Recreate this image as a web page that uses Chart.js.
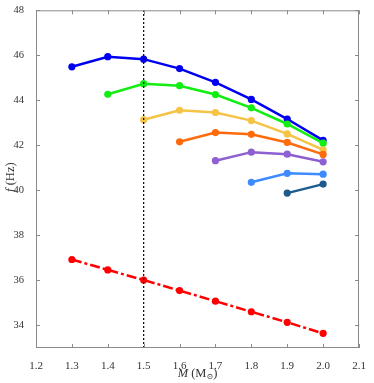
<!DOCTYPE html>
<html>
<head>
<meta charset="utf-8">
<title>f vs M</title>
<script src="https://cdn.jsdelivr.net/npm/chart.js@4.4.1/dist/chart.umd.min.js"></script>
<style>
  html, body { margin: 0; padding: 0; background: #ffffff; }
  #wrap { position: relative; width: 374px; height: 383px; }
</style>
</head>
<body>
<div id="wrap"><canvas id="fmChart"></canvas></div>
<script>
// values
var masses = [1.3, 1.4, 1.5, 1.6, 1.7, 1.8, 1.9, 2.0];
var seriesBlue = [45.49, 45.94, 45.83, 45.41, 44.80, 44.04, 43.17, 42.22];
var seriesGreen = [null, 44.27, 44.74, 44.65, 44.26, 43.67, 42.95, 42.10];
var seriesYellow = [null, null, 43.14, 43.56, 43.46, 43.10, 42.51, 41.80];
var seriesOrange = [null, null, null, 42.16, 42.57, 42.49, 42.13, 41.60];
var seriesPurple = [null, null, null, null, 41.32, 41.70, 41.61, 41.27];
var seriesLightBlue = [null, null, null, null, null, 40.36, 40.76, 40.72];
var seriesDarkBlue = [null, null, null, null, null, null, 39.88, 40.28];
var seriesRed = [36.93, 36.47, 36.02, 35.55, 35.08, 34.61, 34.14, 33.65];
var markerMass = 1.5;
var xTicks = [1.2, 1.3, 1.4, 1.5, 1.6, 1.7, 1.8, 1.9, 2.0, 2.1];
var yTicks = [34, 36, 38, 40, 42, 44, 46, 48];
var xRange = [1.2, 2.1];
var yRange = [33, 48];

(function () {
  var serif = "'Liberation Serif', 'DejaVu Serif', serif";
  var axisGray = '#8a8a8a';
  var labelColor = '#333333';

  function points(values) {
    var out = [];
    for (var i = 0; i < masses.length; i++) {
      if (values[i] !== null) out.push({ x: masses[i], y: values[i] });
    }
    return out;
  }

  function curve(values, color, dash) {
    return {
      data: points(values),
      borderColor: color,
      backgroundColor: color,
      borderWidth: 2.5,
      borderDash: dash || [],
      pointRadius: 3.6,
      pointBorderWidth: 0,
      pointBackgroundColor: color,
      tension: 0,
    };
  }

  // draw a run of text pieces left to right, returns total width
  function pieces(c, parts, x, y, measureOnly) {
    var w = 0;
    parts.forEach(function (p) {
      c.font = p.font;
      if (!measureOnly) c.fillText(p.text, x + w, y + (p.dy || 0));
      w += c.measureText(p.text).width;
    });
    return w;
  }

  // inward ticks on all four sides, box frame and the italic axis titles
  var frame = {
    id: 'frame',
    afterDraw: function (chart) {
      var c = chart.ctx;
      var a = chart.chartArea;
      var xs = chart.scales.x;
      var ys = chart.scales.y;
      var len = 4;
      c.save();
      c.strokeStyle = axisGray;
      c.lineWidth = 1;
      c.strokeRect(a.left + 0.5, a.top + 0.5, a.right - a.left - 1, a.bottom - a.top - 1);
      c.beginPath();
      xTicks.forEach(function (v) {
        var px = Math.round(xs.getPixelForValue(v)) + 0.5;
        c.moveTo(px, a.bottom); c.lineTo(px, a.bottom - len);
        c.moveTo(px, a.top); c.lineTo(px, a.top + len);
      });
      yTicks.forEach(function (v) {
        var py = Math.round(ys.getPixelForValue(v)) + 0.5;
        c.moveTo(a.left, py); c.lineTo(a.left + len, py);
        c.moveTo(a.right, py); c.lineTo(a.right - len, py);
      });
      c.stroke();

      c.fillStyle = labelColor;
      c.textBaseline = 'alphabetic';
      c.textAlign = 'left';
      var reg = '12.5px ' + serif;
      var ital = 'italic 12.5px ' + serif;

      // x title: M (M_sun)
      var xParts = [
        { text: 'M', font: ital },
        { text: ' (M', font: reg },
        { text: '\u2299', font: '8px ' + serif, dy: 2 },
        { text: ')', font: reg },
      ];
      var wx = pieces(c, xParts, 0, 0, true);
      pieces(c, xParts, (a.left + a.right) / 2 - wx / 2, 377, false);

      // y title: f (Hz)
      var yParts = [
        { text: 'f', font: ital },
        { text: ' (Hz)', font: reg },
      ];
      var wy = pieces(c, yParts, 0, 0, true);
      c.translate(14, (a.top + a.bottom) / 2 - 2);
      c.rotate(-Math.PI / 2);
      pieces(c, yParts, -wy / 2, 0, false);
      c.restore();
    },
  };

  function init() {
    var el = document.getElementById('fmChart');
    el.width = 374;
    el.height = 383;
    var ctx = el.getContext('2d');

    var vline = {
      data: [{ x: markerMass, y: yRange[0] }, { x: markerMass, y: yRange[1] }],
      borderColor: '#000000',
      borderWidth: 1.2,
      borderDash: [2, 2],
      pointRadius: 0,
      tension: 0,
    };

    new Chart(ctx, {
      type: 'line',
      data: {
        datasets: [
          vline,
          curve(seriesRed, '#ff0000', [10, 3, 3, 3]),
          curve(seriesDarkBlue, '#1c5b8c'),
          curve(seriesLightBlue, '#3d8bff'),
          curve(seriesPurple, '#8e5fd0'),
          curve(seriesOrange, '#ff6a0a'),
          curve(seriesYellow, '#f5c446'),
          curve(seriesGreen, '#12ee12'),
          curve(seriesBlue, '#0000f0'),
        ],
      },
      options: {
        responsive: false,
        animation: false,
        layout: { padding: { top: 8, right: 15, left: 0, bottom: 0 } },
        plugins: { legend: { display: false }, tooltip: { enabled: false } },
        scales: {
          x: {
            type: 'linear',
            min: xRange[0],
            max: xRange[1],
            grid: { display: false },
            border: { display: false },
            afterBuildTicks: function (s) { s.ticks = xTicks.map(function (v) { return { value: v }; }); },
            afterFit: function (s) { s.height = 35; },
            ticks: {
              color: labelColor,
              padding: 4,
              maxRotation: 0,
              autoSkip: false,
              font: { family: serif, size: 11 },
              callback: function (v) { return Number(v).toFixed(1); },
            },
          },
          y: {
            type: 'linear',
            min: yRange[0],
            max: yRange[1],
            grid: { display: false },
            border: { display: false },
            afterBuildTicks: function (s) { s.ticks = yTicks.map(function (v) { return { value: v }; }); },
            afterFit: function (s) { s.width = 36; },
            ticks: {
              color: labelColor,
              padding: 4,
              autoSkip: false,
              font: { family: serif, size: 10.5 },
            },
          },
        },
      },
      plugins: [frame],
    });
  }

  if (document.readyState === 'loading') document.addEventListener('DOMContentLoaded', init);
  else init();
})();
</script>
</body>
</html>
